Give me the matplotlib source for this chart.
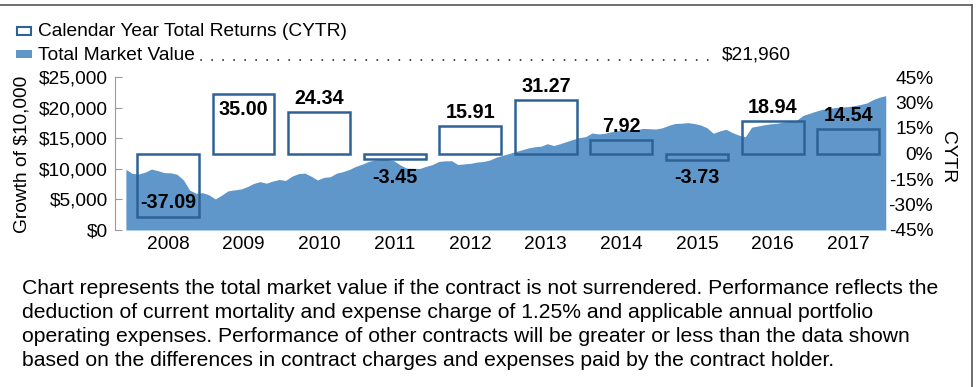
import numpy as np
import matplotlib
matplotlib.use("Agg")
import matplotlib.pyplot as plt
from matplotlib.patches import Rectangle
from matplotlib.lines import Line2D

plt.rcParams['font.family'] = ['Liberation Sans', 'DejaVu Sans']

years = ['2008', '2009', '2010', '2011', '2012', '2013', '2014', '2015', '2016', '2017']
cytr = [-37.09, 35.00, 24.34, -3.45, 15.91, 31.27, 7.92, -3.73, 18.94, 14.54]

# month-end value of $10,000, Jan 2008 .. Dec 2017
mv_2008 = [9900, 9250, 9150, 9450, 9950, 9700, 9370, 9350, 9100, 8200, 6500, 6000]
mv_2009 = [6100, 5750, 5070, 5700, 6400, 6550, 6700, 7080, 7600, 7900, 7650, 8000]
mv_2010 = [8250, 8100, 8800, 9200, 9300, 8800, 8170, 8600, 8700, 9300, 9530, 9900]
mv_2011 = [10400, 10750, 11200, 11450, 11550, 11500, 11300, 10600, 10100, 10080, 10050, 10400]
mv_2012 = [10700, 11200, 11300, 11320, 10700, 10800, 10900, 11100, 11200, 11440, 11900, 12200]
mv_2013 = [12500, 12800, 13100, 13400, 13600, 13700, 14100, 13800, 14100, 14450, 14800, 15100]
mv_2014 = [15250, 15850, 15700, 15800, 16050, 16200, 16450, 16350, 16400, 16600, 16550, 16500]
mv_2015 = [16700, 17100, 17400, 17450, 17550, 17400, 17160, 16700, 15800, 16200, 16450, 15900]
mv_2016 = [15500, 15250, 16800, 17000, 17200, 17350, 17450, 17650, 17750, 17900, 18700, 19050]
mv_2017 = [19400, 19700, 19850, 20000, 20100, 20150, 20300, 20500, 20750, 21300, 21700, 21960]
market_value = (mv_2008 + mv_2009 + mv_2010 + mv_2011 + mv_2012 +
                mv_2013 + mv_2014 + mv_2015 + mv_2016 + mv_2017)

left_ticks = [0, 5000, 10000, 15000, 20000, 25000]
right_ticks = [-45, -30, -15, 0, 15, 30, 45]

footnote = [
    "Chart represents the total market value if the contract is not surrendered. Performance reflects the",
    "deduction of current mortality and expense charge of 1.25% and applicable annual portfolio",
    "operating expenses. Performance of other contracts will be greater or less than the data shown",
    "based on the differences in contract charges and expenses paid by the contract holder.",
]

area_color = '#5f97ca'
box_color = '#2e6296'
spine_gray = '#9a9a9a'
FS = 13.8
FS_NOTE = 15.2
FS_BOLD = 14.2

W, H = 976, 387
fig = plt.figure(figsize=(W / 100, H / 100), dpi=100)


def fx(x):
    return x / W


def fy(y):
    return 1 - y / H


ax = fig.add_axes([fx(115), fy(230), fx(886) - fx(115), fy(77) - fy(230)])
xm = np.linspace(-0.556, 9.497, len(market_value))
ax.fill_between(xm, market_value, color=area_color, lw=0)
ax.set_xlim(-0.70, 9.50)
ax.set_ylim(0, 25000)
ax.set_xticks(range(len(years)))
ax.set_xticklabels(years, fontsize=FS)
ax.tick_params(axis='x', length=0, pad=4)
ax.set_yticks(left_ticks)
ax.set_yticklabels(['${:,}'.format(v) for v in left_ticks], fontsize=FS)
ax.tick_params(axis='y', direction='in', length=5, color=spine_gray, pad=5)
for s in ['top', 'right', 'bottom']:
    ax.spines[s].set_visible(False)
ax.spines['left'].set_color(spine_gray)

ax2 = ax.twinx()
ax2.set_ylim(-45, 45)
ax2.bar(range(len(years)), cytr, width=0.82, fill=False, edgecolor=box_color, lw=1.8)
for i, v in enumerate(cytr):
    txt = '{:.2f}'.format(v)
    if v > 33:
        off, va = -4, 'top'
    elif v >= 0:
        off, va = 3, 'bottom'
    elif v < -33:
        off, va = 3, 'bottom'
    else:
        off, va = -6, 'top'
    ax2.annotate(txt, (i, v), xytext=(0, off), textcoords='offset points',
                 ha='center', va=va, fontsize=FS_BOLD, fontweight='bold')
ax2.set_yticks(right_ticks)
ax2.set_yticklabels(['{}%'.format(v) for v in right_ticks], fontsize=FS)
ax2.tick_params(axis='y', length=0, pad=34)
for lab in ax2.get_yticklabels():
    lab.set_horizontalalignment('right')
for s in ax2.spines.values():
    s.set_visible(False)

# axis titles
fig.text(fx(22), fy(154), 'Growth of $10,000', rotation=90, ha='center', va='center', fontsize=FS)
fig.text(fx(948), fy(157), 'CYTR', rotation=270, ha='center', va='center', fontsize=FS)

# legend
fig.patches.append(Rectangle((fx(17), fy(35)), fx(14), fy(27) - fy(35), transform=fig.transFigure,
                             facecolor='white', edgecolor=box_color, lw=1.5))
fig.patches.append(Rectangle((fx(16), fy(58)), fx(16), fy(50) - fy(58), transform=fig.transFigure,
                             facecolor=area_color, edgecolor='none'))
fig.text(fx(38), fy(31), 'Calendar Year Total Returns (CYTR)', ha='left', va='center', fontsize=FS)
fig.text(fx(38), fy(55), 'Total Market Value', ha='left', va='center', fontsize=FS)
fig.lines.append(Line2D([fx(201), fx(712)], [fy(60), fy(60)], transform=fig.transFigure,
                        color='#222222', lw=1.3, linestyle=(0, (0.1, 6.0)), dash_capstyle='round'))
fig.text(fx(722), fy(55), '${:,}'.format(market_value[-1]), ha='left', va='center', fontsize=FS)

# footnote
for k, line in enumerate(footnote):
    fig.text(fx(22), fy(288 + 24 * k), line, ha='left', va='center', fontsize=FS_NOTE)

# frame
fig.lines.append(Line2D([0, fx(972)], [fy(5), fy(5)], transform=fig.transFigure, color='#555555', lw=1.2))
fig.lines.append(Line2D([fx(972), fx(972)], [fy(5), 0], transform=fig.transFigure, color='#555555', lw=1.2))

fig.savefig('out.png', dpi=100)
